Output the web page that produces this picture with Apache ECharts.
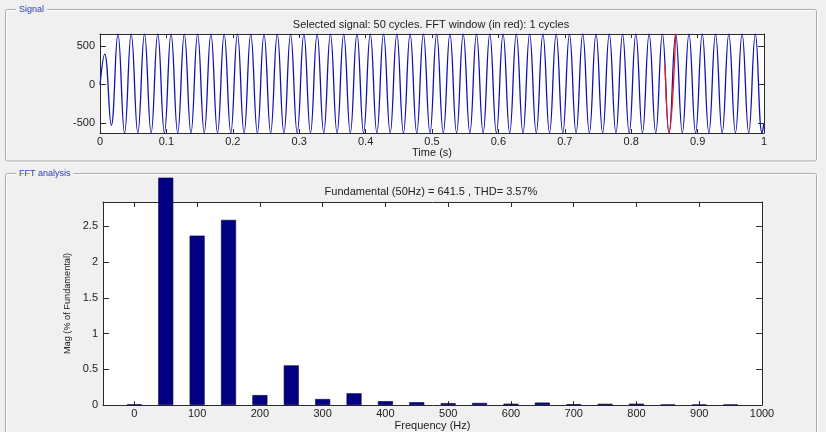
<!DOCTYPE html>
<html lang="en" style="height: 100%">
<head>
  <meta charset="utf-8">
</head>
<body style="height: 100%; margin: 0; background: #f0f0f0">
  <div id="container" style="width: 826px; height: 432px"></div>
  <script type="text/javascript" src="https://fastly.jsdelivr.net/npm/echarts@6.0.0/dist/echarts.min.js"></script>
  <script type="text/javascript">
    // signal: one peak and one trough per 50 Hz cycle
    const period = 0.02;
    const firstPeakTime = 0.007;
    const peakValues = [
      395, 656, 656, 656, 656, 656, 656, 656, 656, 656,
      656, 656, 656, 656, 656, 656, 656, 656, 656, 656,
      656, 656, 656, 656, 656, 656, 656, 656, 656, 656,
      656, 656, 656, 656, 656, 656, 656, 656, 656, 656,
      656, 656, 656, 656, 656, 656, 656, 656, 656, 656
    ];
    const troughValues = [
      -525, -626, -626, -626, -626, -626, -626, -626, -626, -626,
      -626, -626, -626, -626, -626, -626, -626, -626, -626, -626,
      -626, -626, -626, -626, -626, -626, -626, -626, -626, -626,
      -626, -626, -626, -626, -626, -626, -626, -626, -626, -626,
      -626, -626, -626, -626, -626, -626, -626, -626, -626, -626
    ];
    const signalStart = [0, 0];
    const signalEnd = [1, -500];
    // FFT window (in red)
    const windowPoints = [[0.851, 250], [0.857, -626], [0.867, 656]];

    // FFT spectrum
    const harmonicFreqs = [0, 50, 100, 150, 200, 250, 300, 350, 400, 450,
      500, 550, 600, 650, 700, 750, 800, 850, 900, 950];
    const harmonicMags = [0.01, 100, 2.37, 2.59, 0.14, 0.555, 0.085, 0.165, 0.055, 0.04,
      0.027, 0.03, 0.02, 0.035, 0.012, 0.018, 0.02, 0.008, 0.008, 0.008];
    const visibleTop = 3.18; // fundamental bar is cut by the panel

    const timeTicks = [0, 0.1, 0.2, 0.3, 0.4, 0.5, 0.6, 0.7, 0.8, 0.9, 1];
    const signalTicks = [-500, 0, 500];
    const freqTicks = [0, 100, 200, 300, 400, 500, 600, 700, 800, 900, 1000];
    const magTicks = [0, 0.5, 1, 1.5, 2, 2.5];

    const signalData = [signalStart];
    for (let k = 0; k < peakValues.length; k++) {
      signalData.push([firstPeakTime + k * period, peakValues[k]]);
      signalData.push([firstPeakTime + k * period + period / 2, troughValues[k]]);
    }
    signalData.push(signalEnd);

    const barData = harmonicFreqs.map(function (f, i) {
      return [f, Math.min(harmonicMags[i], visibleTop)];
    });

    const FONT = 'Liberation Sans, Arial, sans-serif';
    const AXIS_COLOR = '#2a2a2a';
    const labelStyle = { color: '#222', fontSize: 11, fontFamily: FONT };
    const plain = function (v) { return String(v); };

    function mainX(grid, min, max, ticks, name) {
      return {
        gridIndex: grid, type: 'value', min: min, max: max, position: 'bottom',
        name: name, nameLocation: 'middle', nameGap: 14,
        nameTextStyle: labelStyle,
        axisLine: { show: true, onZero: false, lineStyle: { color: AXIS_COLOR, width: 1 } },
        axisTick: { show: true, inside: true, length: 4, customValues: ticks, lineStyle: { color: AXIS_COLOR } },
        axisLabel: Object.assign({ margin: 3, customValues: ticks, formatter: plain }, labelStyle),
        splitLine: { show: false }
      };
    }
    function sideAxis(grid, min, max, ticks, pos, len) {
      return {
        gridIndex: grid, type: 'value', min: min, max: max, position: pos,
        axisLine: { show: true, onZero: false, lineStyle: { color: AXIS_COLOR, width: 1 } },
        axisTick: { show: true, inside: true, length: len, customValues: ticks, lineStyle: { color: AXIS_COLOR } },
        axisLabel: { show: false },
        splitLine: { show: false }
      };
    }
    function mainY(grid, min, max, ticks, name) {
      return {
        gridIndex: grid, type: 'value', min: min, max: max, position: 'left',
        name: name, nameLocation: 'middle', nameGap: 29,
        nameTextStyle: Object.assign({}, labelStyle, { fontSize: 9.2 }),
        axisLine: { show: true, onZero: false, lineStyle: { color: AXIS_COLOR, width: 1 } },
        axisTick: { show: true, inside: true, length: 6, customValues: ticks, lineStyle: { color: AXIS_COLOR } },
        axisLabel: Object.assign({ margin: 5, customValues: ticks, formatter: plain }, labelStyle),
        splitLine: { show: false }
      };
    }

    const dom = document.getElementById('container');
    const myChart = echarts.init(dom, null, { renderer: 'canvas' });

    const option = {
      animation: false,
      backgroundColor: '#f0f0f0',
      grid: [
        { left: 100, top: 34, width: 664, height: 99, show: true, backgroundColor: '#fff', borderWidth: 0 },
        { left: 103, top: 202, width: 659, height: 206, show: true, backgroundColor: '#fff', borderWidth: 0 }
      ],
      xAxis: [
        mainX(0, 0, 1, timeTicks, 'Time (s)'),
        sideAxis(0, 0, 1, timeTicks, 'top', 4),
        mainX(1, -50, 1000, freqTicks, 'Frequency (Hz)'),
        sideAxis(1, -50, 1000, freqTicks, 'top', 5)
      ],
      yAxis: [
        mainY(0, -626, 656, signalTicks, ''),
        sideAxis(0, -626, 656, signalTicks, 'right', 6),
        mainY(1, 0, 2.84, magTicks, 'Mag (% of Fundamental)'),
        sideAxis(1, 0, 2.84, magTicks, 'right', 6)
      ],
      series: [
        {
          type: 'line', xAxisIndex: 0, yAxisIndex: 0,
          data: signalData, showSymbol: false, smooth: 0.45,
          lineStyle: { color: '#1212b4', width: 1.3 }, z: 3
        },
        {
          type: 'line', xAxisIndex: 0, yAxisIndex: 0,
          data: windowPoints, showSymbol: false, smooth: 0.45,
          lineStyle: { color: '#e8201c', width: 1.3 }, z: 4
        },
        {
          type: 'bar', xAxisIndex: 2, yAxisIndex: 2,
          data: barData, barWidth: 15, clip: false,
          itemStyle: { color: '#000080', borderColor: '#00004a', borderWidth: 0.6 }, z: 3
        }
      ],
      graphic: {
        elements: [
          // group box "Signal"
          { type: 'rect', shape: { x: 5.5, y: 9.5, width: 811, height: 151.5, r: 2 },
            style: { fill: null, stroke: '#a9a9a9', lineWidth: 1 }, z: 10 },
          { type: 'rect', shape: { x: 6.5, y: 10.5, width: 811, height: 151.5, r: 2 },
            style: { fill: null, stroke: '#ffffff', lineWidth: 1 }, z: 9 },
          { type: 'text', x: 16, y: 9.5, z: 11,
            style: { text: 'Signal', font: '9px ' + FONT, fill: '#2c3db4',
              verticalAlign: 'middle', backgroundColor: '#f0f0f0', padding: [1, 3] } },
          // group box "FFT analysis"
          { type: 'rect', shape: { x: 5.5, y: 173.5, width: 811, height: 300, r: 2 },
            style: { fill: null, stroke: '#a9a9a9', lineWidth: 1 }, z: 10 },
          { type: 'rect', shape: { x: 6.5, y: 174.5, width: 811, height: 300, r: 2 },
            style: { fill: null, stroke: '#ffffff', lineWidth: 1 }, z: 9 },
          { type: 'text', x: 16, y: 173.5, z: 11,
            style: { text: 'FFT analysis', font: '9px ' + FONT, fill: '#2c3db4',
              verticalAlign: 'middle', backgroundColor: '#f0f0f0', padding: [1, 3] } },
          // axes titles
          { type: 'text', x: 431, y: 25, z: 11,
            style: { text: 'Selected signal: 50 cycles. FFT window (in red): 1 cycles',
              font: '11px ' + FONT, fill: '#222', align: 'center', verticalAlign: 'middle' } },
          { type: 'text', x: 431, y: 192, z: 11,
            style: { text: 'Fundamental (50Hz) = 641.5 , THD= 3.57%',
              font: '11px ' + FONT, fill: '#222', align: 'center', verticalAlign: 'middle' } }
        ]
      }
    };

    myChart.setOption(option);
    window.addEventListener('resize', myChart.resize);
  </script>
</body>
</html>
